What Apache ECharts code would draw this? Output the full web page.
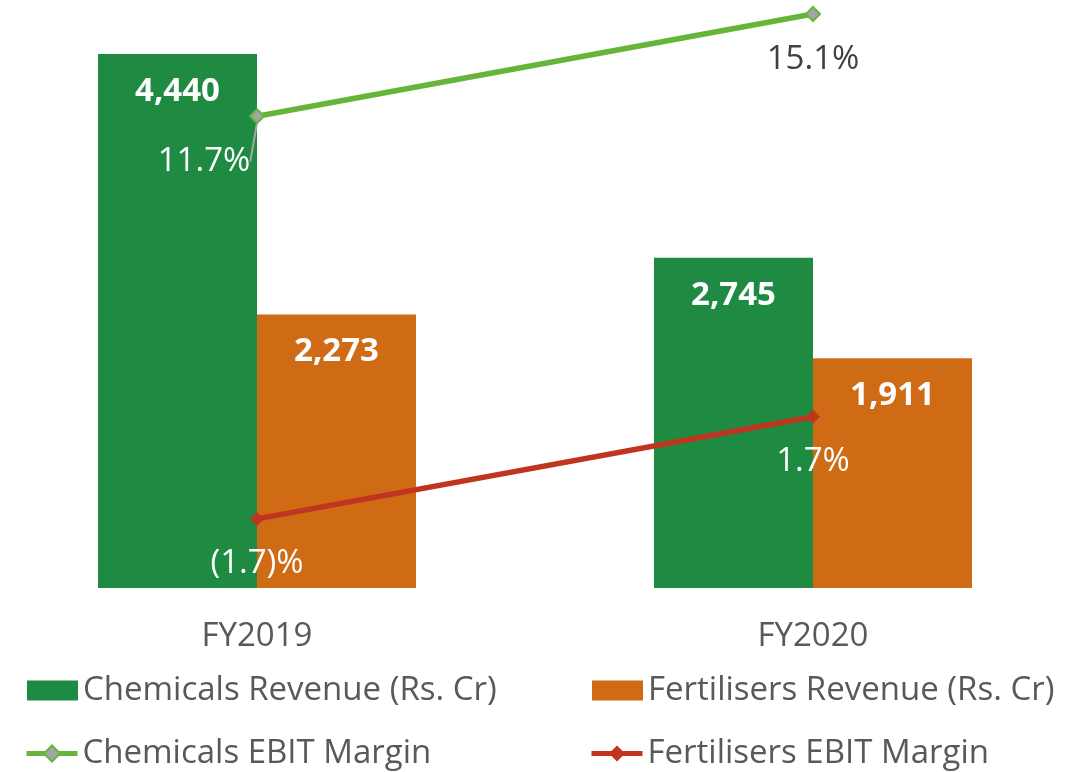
<!DOCTYPE html>
<html>
<head>
<meta charset="utf-8">
<script src="https://cdn.jsdelivr.net/npm/echarts@6/dist/echarts.min.js"></script>
<style>
  html, body { margin: 0; padding: 0; background: #fff; }
  #chart { width: 1081px; height: 772px; }
</style>
</head>
<body>
<div id="chart"></div>
<script>
var years = ['FY2019', 'FY2020'];
var chemRevenue = [4440, 2745];
var fertRevenue = [2273, 1911];
var chemMargin = [11.7, 15.1];
var fertMargin = [-1.7, 1.7];

var font = '"Open Sans", sans-serif';

function pct(v) {
  return v < 0 ? '(' + Math.abs(v).toFixed(1) + ')%' : v.toFixed(1) + '%';
}

var chart = echarts.init(document.getElementById('chart'));

var legendText = { fontFamily: font, fontSize: 33, color: '#595959' };
function legendAt(name, left, top, icon) {
  return {
    data: [{ name: name, icon: icon }],
    left: left, top: top, padding: 0,
    itemWidth: 51, itemHeight: 20, itemGap: 7,
    lineStyle: { width: 5 },
    textStyle: legendText
  };
}

var option = {
  animation: false,
  grid: { left: 257, right: 268, top: 14, bottom: 184, containLabel: false },
  legend: [
    legendAt('Chemicals Revenue (Rs. Cr)', 27, 674, 'rect'),
    legendAt('Fertilisers Revenue (Rs. Cr)', 592, 674, 'rect'),
    legendAt('Chemicals EBIT Margin', 24, 737),
    legendAt('Fertilisers EBIT Margin', 589, 737)
  ],
  xAxis: {
    type: 'category',
    data: years,
    boundaryGap: false,
    axisLine: { show: false },
    axisTick: { show: false },
    axisLabel: { fontFamily: font, fontSize: 33, color: '#595959', margin: 32 }
  },
  yAxis: [
    { type: 'value', min: 0, max: 4772, show: false, splitLine: { show: false } },
    { type: 'value', min: -4.0, max: 15.1, show: false, splitLine: { show: false } }
  ],
  series: [
    {
      name: 'Chemicals Revenue (Rs. Cr)',
      type: 'bar',
      data: chemRevenue,
      barWidth: 159,
      barGap: 0,
      clip: false,
      itemStyle: { color: '#1e8a42' },
      label: {
        show: true, position: 'insideTop', distance: 21,
        fontFamily: font, fontSize: 33, fontWeight: 'bold', color: '#fff',
        formatter: function (p) { return p.value.toLocaleString('en-US'); }
      }
    },
    {
      name: 'Fertilisers Revenue (Rs. Cr)',
      type: 'bar',
      data: fertRevenue,
      barWidth: 159,
      barGap: 0,
      clip: false,
      itemStyle: { color: '#d06b15' },
      label: {
        show: true, position: 'insideTop', distance: 21,
        fontFamily: font, fontSize: 33, fontWeight: 'bold', color: '#fff',
        formatter: function (p) { return p.value.toLocaleString('en-US'); }
      }
    },
    {
      name: 'Chemicals EBIT Margin',
      type: 'line',
      yAxisIndex: 1,
      clip: false,
      data: chemMargin.map(function (v, i) {
        return i === 1 ? { value: v, label: { color: '#404040' }, labelLine: { show: false } } : v;
      }),
      symbol: 'diamond',
      symbolSize: 14,
      lineStyle: { color: '#66b53a', width: 5.5 },
      itemStyle: { color: '#a5a5a5', borderColor: '#66b53a', borderWidth: 2 },
      label: {
        show: true, position: 'bottom', distance: 21,
        fontFamily: font, fontSize: 33, color: '#fff',
        formatter: function (p) { return pct(p.value); }
      },
      labelLine: { show: true, lineStyle: { color: '#a6a6a6', width: 2 } },
      labelLayout: function (p) {
        if (p.dataIndex === 0) {
          var cx = p.rect.x + p.rect.width / 2;
          var cy = p.rect.y + p.rect.height / 2;
          return {
            dx: -53,
            labelLinePoints: [[cx - 4, cy + 1], [cx - 28, cy + 8], [cx - 54, cy + 15]]
          };
        }
        return {};
      }
    },
    {
      name: 'Fertilisers EBIT Margin',
      type: 'line',
      yAxisIndex: 1,
      clip: false,
      data: fertMargin,
      symbol: 'diamond',
      symbolSize: 14,
      lineStyle: { color: '#c0351f', width: 5.5 },
      itemStyle: { color: '#c0351f' },
      label: {
        show: true, position: 'bottom', distance: 21,
        fontFamily: font, fontSize: 33, color: '#fff',
        formatter: function (p) { return pct(p.value); }
      }
    }
  ]
};

chart.setOption(option);
window.addEventListener('resize', function () {
  chart.resize();
});
</script>
</body>
</html>
